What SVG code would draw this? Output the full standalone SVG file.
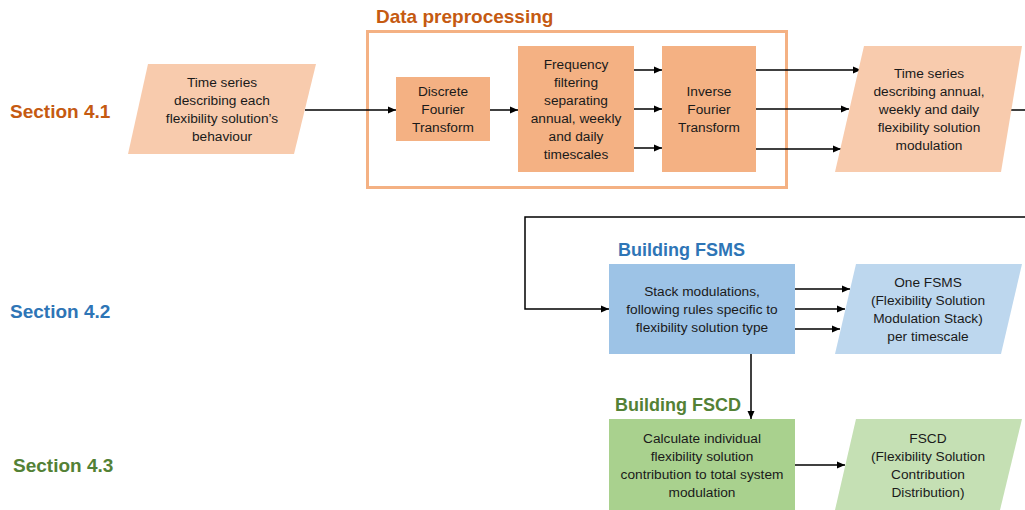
<svg xmlns="http://www.w3.org/2000/svg" width="1025" height="510" viewBox="0 0 1025 510">
<defs>
<marker id="ah" markerWidth="8" markerHeight="8" refX="8" refY="4" orient="auto" markerUnits="userSpaceOnUse">
<path d="M0,0.5 L8,4 L0,7.5 Z" fill="#000"/>
</marker>
<style>
.t{font-family:"Liberation Sans",Arial,sans-serif;font-size:13.7px;fill:#1a1a1a;text-anchor:middle}
.h{font-family:"Liberation Sans",Arial,sans-serif;font-size:19px;font-weight:bold}
.hs{font-size:18px}
.c{stroke:#000;stroke-width:1.5;fill:none}
.ca{stroke:#000;stroke-width:1.5;fill:none;marker-end:url(#ah)}
.o{fill:#C55A11}.b{fill:#2E75B6}.g{fill:#538135}
</style>
</defs>
<rect width="1025" height="510" fill="#fff"/>
<text class="h o" x="10" y="118">Section 4.1</text>
<text class="h b" x="10" y="318">Section 4.2</text>
<text class="h g" x="13" y="472">Section 4.3</text>
<g id="preproc">
<rect x="367.5" y="31.5" width="419" height="156" fill="none" stroke="#F4B183" stroke-width="3"/>
<text class="h o" x="376" y="23">Data preprocessing</text>
</g>
<g id="connectors">
<path class="ca" d="M305,110 H396"/>
<path class="ca" d="M490,110 H518"/>
<path class="ca" d="M634,70 H662"/>
<path class="ca" d="M634,109 H662"/>
<path class="ca" d="M634,148 H662"/>
<path class="ca" d="M756,70 H861"/>
<path class="ca" d="M756,109 H849"/>
<path class="ca" d="M756,149 H841"/>
<path class="c" d="M1008,110 H1025"/>
<path class="ca" d="M1025,217 H525 V309 H609"/>
<path class="ca" d="M795,289 H850"/>
<path class="ca" d="M795,309 H845"/>
<path class="ca" d="M795,329 H840"/>
<path class="ca" d="M751,354 V419"/>
<path class="ca" d="M795,465 H845"/>
</g>
<g id="input">
<polygon points="148,64 316,64 294,154 128,154" fill="#F8CBAD"/>
<text class="t"><tspan x="222" y="87">Time series</tspan><tspan x="222" y="105">describing each</tspan><tspan x="222" y="123">flexibility solution’s</tspan><tspan x="222" y="141">behaviour</tspan></text>
</g>
<g id="dft">
<rect x="396" y="77" width="94" height="64" fill="#F4B183"/>
<text class="t"><tspan x="443" y="96">Discrete</tspan><tspan x="443" y="114">Fourier</tspan><tspan x="443" y="132">Transform</tspan></text>
</g>
<g id="filter">
<rect x="518" y="46" width="116" height="126" fill="#F4B183"/>
<text class="t"><tspan x="576" y="69">Frequency</tspan><tspan x="576" y="87">filtering</tspan><tspan x="576" y="105">separating</tspan><tspan x="576" y="123">annual, weekly</tspan><tspan x="576" y="141">and daily</tspan><tspan x="576" y="159">timescales</tspan></text>
</g>
<g id="ift">
<rect x="662" y="46" width="94" height="126" fill="#F4B183"/>
<text class="t"><tspan x="709" y="96">Inverse</tspan><tspan x="709" y="114">Fourier</tspan><tspan x="709" y="132">Transform</tspan></text>
</g>
<g id="output1">
<polygon points="864,46 1022,46 1001,172 835,172" fill="#F8CBAD"/>
<text class="t"><tspan x="929" y="78">Time series</tspan><tspan x="929" y="96">describing annual,</tspan><tspan x="929" y="114">weekly and daily</tspan><tspan x="929" y="132">flexibility solution</tspan><tspan x="929" y="150">modulation</tspan></text>
</g>
<g id="fsms">
<text class="h hs b" x="618" y="256">Building FSMS</text>
<rect x="609" y="264" width="186" height="90" fill="#9DC3E6"/>
<text class="t"><tspan x="702" y="296">Stack modulations,</tspan><tspan x="702" y="314">following rules specific to</tspan><tspan x="702" y="332">flexibility solution type</tspan></text>
</g>
<g id="fsms-out">
<polygon points="856,264 1022,264 1001,354 835,354" fill="#BDD7EE"/>
<text class="t"><tspan x="928" y="287">One FSMS</tspan><tspan x="928" y="305">(Flexibility Solution</tspan><tspan x="928" y="323">Modulation Stack)</tspan><tspan x="928" y="341">per timescale</tspan></text>
</g>
<g id="fscd">
<text class="h hs g" x="615" y="411">Building FSCD</text>
<rect x="609" y="419" width="186" height="91" fill="#A9D18E"/>
<text class="t"><tspan x="702" y="443">Calculate individual</tspan><tspan x="702" y="461">flexibility solution</tspan><tspan x="702" y="479">contribution to total system</tspan><tspan x="702" y="497">modulation</tspan></text>
</g>
<g id="fscd-out">
<polygon points="856,419 1022,419 1000,510 835,510" fill="#C5E0B4"/>
<text class="t"><tspan x="928" y="443">FSCD</tspan><tspan x="928" y="461">(Flexibility Solution</tspan><tspan x="928" y="479">Contribution</tspan><tspan x="928" y="497">Distribution)</tspan></text>
</g>
</svg>
